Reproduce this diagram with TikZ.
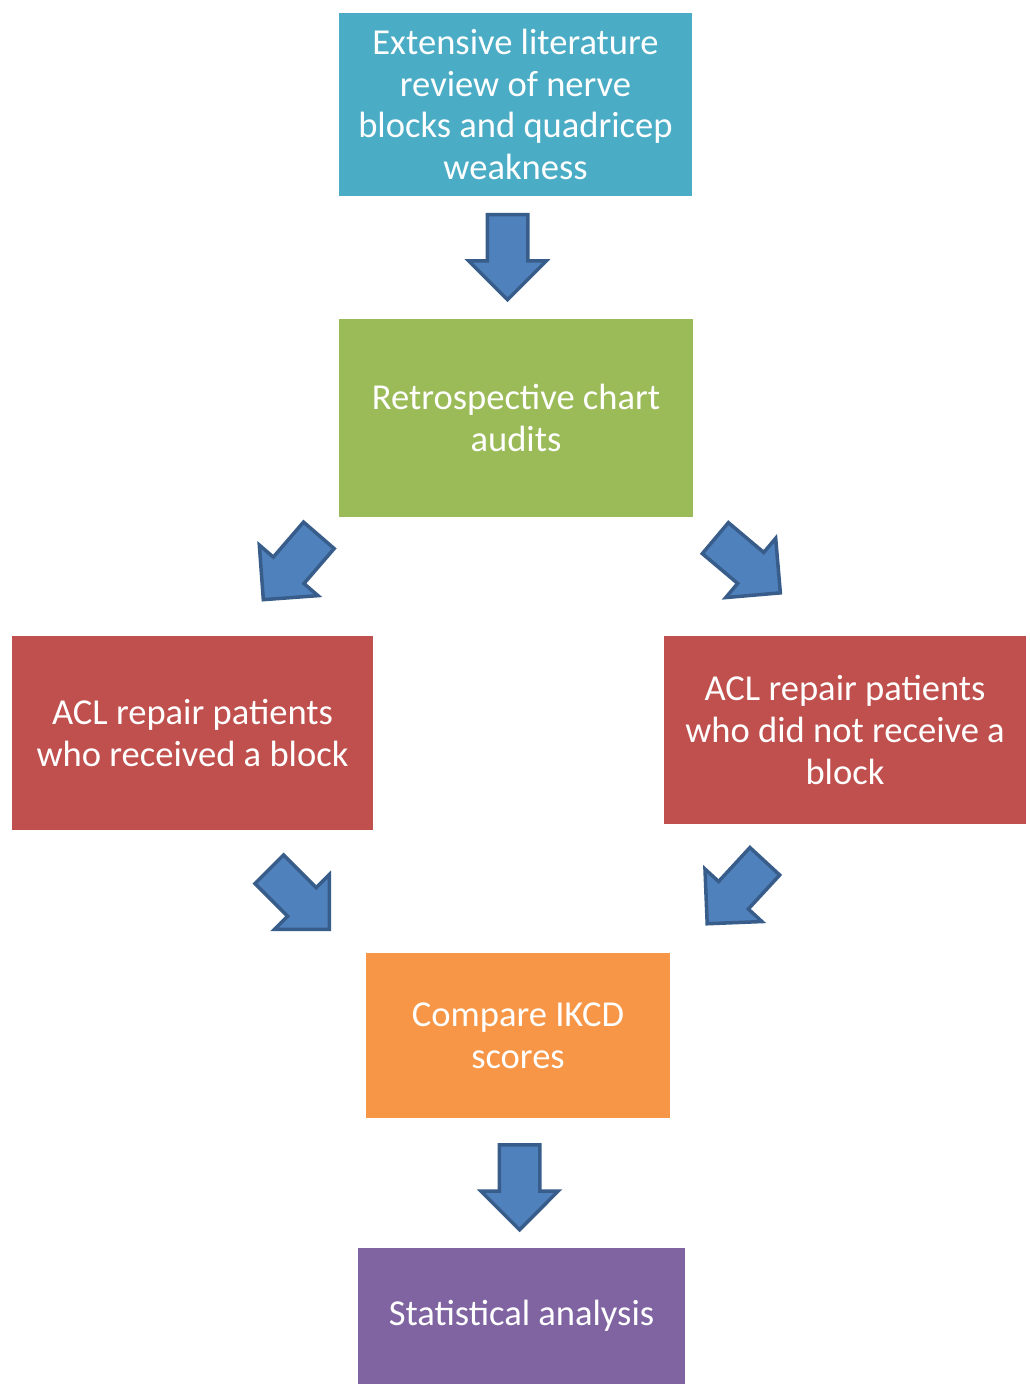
\documentclass[tikz,border=0pt]{standalone}
\usepackage{fontspec}
\setmainfont{Carlito}
\usetikzlibrary{shapes.arrows}
\definecolor{boxteal}{HTML}{4BACC6}
\definecolor{boxgreen}{HTML}{9BBB59}
\definecolor{boxred}{HTML}{C0504D}
\definecolor{boxorange}{HTML}{F79646}
\definecolor{boxpurple}{HTML}{8064A2}
\definecolor{arrowblue}{HTML}{4F81BD}
\definecolor{arrowline}{HTML}{385D8A}
\tikzset{
  box/.style={rectangle,text=white,align=center,inner sep=0pt,font=\fontsize{20.8}{23.7}\selectfont},
  blockarrow/.style={single arrow,draw=arrowline,fill=arrowblue,line width=0.7mm,single arrow head extend=3.7mm,inner xsep=0pt,inner ysep=3.7mm,minimum height=17mm,anchor=tail}
}
\begin{document}
\begin{tikzpicture}[x=0.2mm,y=-0.2mm]
\useasboundingbox (0,0) rectangle (1029,1395);
\node[box,fill=boxteal,minimum width=70.6mm,minimum height=36.6mm] (review) at (515.5,104.5) {Extensive literature\\review of nerve\\blocks and quadricep\\weakness};
\node[box,fill=boxgreen,minimum width=70.8mm,minimum height=39.6mm] (audits) at (516,418) {Retrospective chart\\audits};
\node[box,fill=boxred,minimum width=72.2mm,minimum height=38.8mm] (block) at (192.5,733) {ACL repair patients\\who received a block};
\node[box,fill=boxred,minimum width=72.4mm,minimum height=37.6mm] (noblock) at (845,730) {ACL repair patients\\who did not receive a\\block};
\node[box,fill=boxorange,minimum width=60.8mm,minimum height=33mm] (compare) at (518,1035.5) {Compare IKCD\\scores};
\node[box,fill=boxpurple,minimum width=65.4mm,minimum height=27.2mm] (stats) at (521.5,1316) {Statistical analysis};
% block arrows
\node[blockarrow,rotate=-90] (arrowa) at (507.5,213) {};
\node[blockarrow,rotate=-130.8] (arrowb) at (320,534) {};
\node[blockarrow,rotate=-40.1] (arrowc) at (714,537) {};
\node[blockarrow,rotate=-45] (arrowd) at (268,868) {};
\node[blockarrow,rotate=-132.7] (arrowe) at (766,860) {};
\node[blockarrow,rotate=-90] (arrowf) at (519.5,1143) {};
\end{tikzpicture}
\end{document}
